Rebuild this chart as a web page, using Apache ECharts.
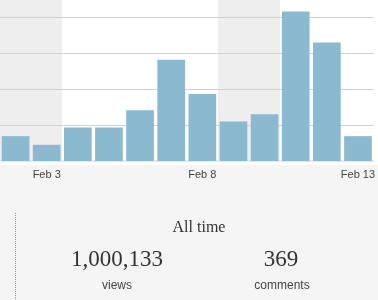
<!DOCTYPE html>
<html>
<head>
<meta charset="utf-8">
<script src="https://cdn.jsdelivr.net/npm/echarts@6/dist/echarts.min.js"></script>
<style>
  html, body { margin: 0; padding: 0; background: #f5f5f5; }
  #chart { width: 378px; height: 300px; }
</style>
</head>
<body>
<div id="chart"></div>
<script>
// ---- data ----
var categories = ['Feb 2','Feb 3','Feb 4','Feb 5','Feb 6','Feb 7','Feb 8','Feb 9','Feb 10','Feb 11','Feb 12','Feb 13'];
var views = [69, 45, 93, 93, 141, 281, 186, 110, 130, 415, 329, 69];
var weekendPattern = ['#eeeeee','#eeeeee','#ffffff','#ffffff','#ffffff','#ffffff','#ffffff'];
var tickLabels = ['Feb 3','Feb 8','Feb 13'];
var summaryTitle = 'All time';
var summaryValues = ['1,000,133', '369'];
var summaryNames = ['views', 'comments'];

var chart = echarts.init(document.getElementById('chart'), null, {renderer: 'canvas'});

var option = {
  backgroundColor: '#f5f5f5',
  animation: false,
  grid: { left: 0, right: 2, top: 0, bottom: 139, containLabel: false },
  xAxis: {
    type: 'category',
    data: categories,
    boundaryGap: true,
    offset: 3,
    z: 0,
    axisLine: { show: true, lineStyle: { color: '#d8e6ee', width: 1.5 } },
    axisTick: { show: false },
    axisLabel: {
      interval: 0,
      formatter: function (v) { return tickLabels.indexOf(v) >= 0 ? v : ''; },
      color: '#444',
      fontFamily: 'Liberation Sans, Arial, sans-serif',
      fontSize: 11,
      margin: 5
    },
    splitArea: { show: true, interval: 0, areaStyle: { color: weekendPattern } },
    splitLine: { show: false }
  },
  yAxis: {
    type: 'value',
    min: 0,
    max: 447,
    interval: 100,
    z: 1,
    axisLine: { show: false },
    axisTick: { show: false },
    axisLabel: { show: false },
    splitLine: { show: true, showMinLine: false, showMaxLine: false, lineStyle: { color: '#d2d2d2', width: 1 } }
  },
  series: [{
    type: 'bar',
    data: views,
    barCategoryGap: '11%',
    itemStyle: { color: '#8bb9cf' },
    z: 3
  }],
  graphic: [
    { type: 'rect', z: -10, silent: true, shape: { x: 0, y: 0, width: 378, height: 165 }, style: { fill: '#ffffff' } },
    { type: 'line', silent: true, shape: { x1: 15.5, y1: 213, x2: 15.5, y2: 300 }, style: { stroke: '#999999', lineWidth: 1, lineDash: [1, 1] } },
    { type: 'text', silent: true, x: 199, y: 228, style: { text: summaryTitle, fill: '#333', font: '16px "Liberation Serif", Georgia, serif', align: 'center', verticalAlign: 'middle' } },
    { type: 'text', silent: true, x: 117, y: 260, style: { text: summaryValues[0], fill: '#333', font: '23px "Liberation Serif", Georgia, serif', align: 'center', verticalAlign: 'middle' } },
    { type: 'text', silent: true, x: 281, y: 260, style: { text: summaryValues[1], fill: '#333', font: '23px "Liberation Serif", Georgia, serif', align: 'center', verticalAlign: 'middle' } },
    { type: 'text', silent: true, x: 117, y: 286, style: { text: summaryNames[0], fill: '#444', font: '12px "Liberation Sans", Arial, sans-serif', align: 'center', verticalAlign: 'middle' } },
    { type: 'text', silent: true, x: 282, y: 286, style: { text: summaryNames[1], fill: '#444', font: '12px "Liberation Sans", Arial, sans-serif', align: 'center', verticalAlign: 'middle' } }
  ]
};
chart.setOption(option);
</script>
</body>
</html>
